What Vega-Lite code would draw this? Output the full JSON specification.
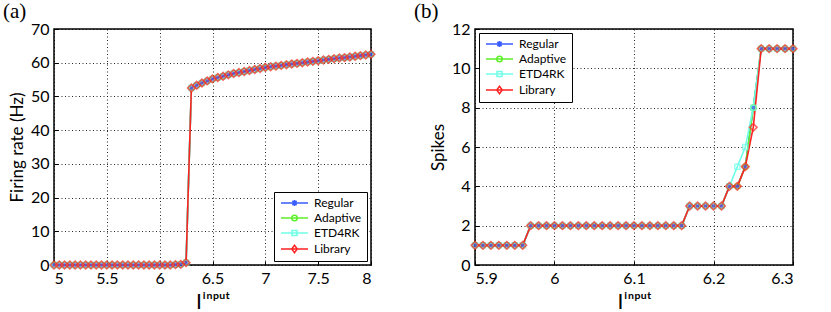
{
  "$schema": "https://vega.github.io/schema/vega-lite/v6.json",
  "padding": {"left": 2, "top": 0, "right": 0, "bottom": 0},
  "bounds": "flush",
  "spacing": 104,
  "config": {
    "font": "Lato",
    "view": {"stroke": "black", "strokeWidth": 1.5},
    "axis": {
      "domain": false, "ticks": true, "tickSize": -4, "tickColor": "black", "tickWidth": 1, "grid": true,
      "gridColor": "black", "gridDash": [1, 2.5], "gridWidth": 1, "gridOpacity": 0.85,
      "labelFont": "Lato", "labelFontSize": 16, "labelColor": "black", "labelPadding": 9,
      "titleFont": "Lato", "titleFontSize": 17, "titleFontWeight": "normal", "titleColor": "black", "titlePadding": 4
    },
    "legend": {
      "title": null, "padding": 5, "offset": 4,
      "strokeColor": "black", "fillColor": "white",
      "labelFont": "Lato", "labelFontSize": 12, "labelColor": "black",
      "symbolSize": 100, "symbolStrokeWidth": 1.5, "symbolOffset": 9.5, "labelOffset": 13.5, "rowPadding": 3,
      "symbolOpacity": 1
    },
    "title": {"font": "Liberation Serif", "fontSize": 21, "fontWeight": "normal", "anchor": "start", "frame": "group", "color": "black"}
  },
  "datasets": {
    "a": [
      {"x":5.00,"Regular":0,"Adaptive":0,"ETD4RK":0,"Library":0},
      {"x":5.05,"Regular":0,"Adaptive":0,"ETD4RK":0,"Library":0},
      {"x":5.10,"Regular":0,"Adaptive":0,"ETD4RK":0,"Library":0},
      {"x":5.15,"Regular":0,"Adaptive":0,"ETD4RK":0,"Library":0},
      {"x":5.20,"Regular":0,"Adaptive":0,"ETD4RK":0,"Library":0},
      {"x":5.25,"Regular":0,"Adaptive":0,"ETD4RK":0,"Library":0},
      {"x":5.30,"Regular":0,"Adaptive":0,"ETD4RK":0,"Library":0},
      {"x":5.35,"Regular":0,"Adaptive":0,"ETD4RK":0,"Library":0},
      {"x":5.40,"Regular":0,"Adaptive":0,"ETD4RK":0,"Library":0},
      {"x":5.45,"Regular":0,"Adaptive":0,"ETD4RK":0,"Library":0},
      {"x":5.50,"Regular":0,"Adaptive":0,"ETD4RK":0,"Library":0},
      {"x":5.55,"Regular":0,"Adaptive":0,"ETD4RK":0,"Library":0},
      {"x":5.60,"Regular":0,"Adaptive":0,"ETD4RK":0,"Library":0},
      {"x":5.65,"Regular":0,"Adaptive":0,"ETD4RK":0,"Library":0},
      {"x":5.70,"Regular":0,"Adaptive":0,"ETD4RK":0,"Library":0},
      {"x":5.75,"Regular":0,"Adaptive":0,"ETD4RK":0,"Library":0},
      {"x":5.80,"Regular":0,"Adaptive":0,"ETD4RK":0,"Library":0},
      {"x":5.85,"Regular":0,"Adaptive":0,"ETD4RK":0,"Library":0},
      {"x":5.90,"Regular":0,"Adaptive":0,"ETD4RK":0,"Library":0},
      {"x":5.95,"Regular":0,"Adaptive":0,"ETD4RK":0,"Library":0},
      {"x":6.00,"Regular":0,"Adaptive":0,"ETD4RK":0,"Library":0},
      {"x":6.05,"Regular":0,"Adaptive":0,"ETD4RK":0,"Library":0},
      {"x":6.10,"Regular":0,"Adaptive":0,"ETD4RK":0,"Library":0},
      {"x":6.15,"Regular":0.1,"Adaptive":0.1,"ETD4RK":0.1,"Library":0.1},
      {"x":6.20,"Regular":0.2,"Adaptive":0.2,"ETD4RK":0.2,"Library":0.2},
      {"x":6.25,"Regular":0.7,"Adaptive":0.7,"ETD4RK":0.7,"Library":0.7},
      {"x":6.30,"Regular":52.5,"Adaptive":52.5,"ETD4RK":52.5,"Library":52.5},
      {"x":6.35,"Regular":53.3,"Adaptive":53.3,"ETD4RK":53.3,"Library":53.3},
      {"x":6.40,"Regular":54.0,"Adaptive":54.0,"ETD4RK":54.0,"Library":54.0},
      {"x":6.45,"Regular":54.6,"Adaptive":54.6,"ETD4RK":54.6,"Library":54.6},
      {"x":6.50,"Regular":55.2,"Adaptive":55.2,"ETD4RK":55.2,"Library":55.2},
      {"x":6.55,"Regular":55.6,"Adaptive":55.6,"ETD4RK":55.6,"Library":55.6},
      {"x":6.60,"Regular":56.0,"Adaptive":56.0,"ETD4RK":56.0,"Library":56.0},
      {"x":6.65,"Regular":56.4,"Adaptive":56.4,"ETD4RK":56.4,"Library":56.4},
      {"x":6.70,"Regular":56.8,"Adaptive":56.8,"ETD4RK":56.8,"Library":56.8},
      {"x":6.75,"Regular":57.1,"Adaptive":57.1,"ETD4RK":57.1,"Library":57.1},
      {"x":6.80,"Regular":57.4,"Adaptive":57.4,"ETD4RK":57.4,"Library":57.4},
      {"x":6.85,"Regular":57.7,"Adaptive":57.7,"ETD4RK":57.7,"Library":57.7},
      {"x":6.90,"Regular":58.0,"Adaptive":58.0,"ETD4RK":58.0,"Library":58.0},
      {"x":6.95,"Regular":58.3,"Adaptive":58.3,"ETD4RK":58.3,"Library":58.3},
      {"x":7.00,"Regular":58.6,"Adaptive":58.6,"ETD4RK":58.6,"Library":58.6},
      {"x":7.05,"Regular":58.8,"Adaptive":58.8,"ETD4RK":58.8,"Library":58.8},
      {"x":7.10,"Regular":59.0,"Adaptive":59.0,"ETD4RK":59.0,"Library":59.0},
      {"x":7.15,"Regular":59.2,"Adaptive":59.2,"ETD4RK":59.2,"Library":59.2},
      {"x":7.20,"Regular":59.4,"Adaptive":59.4,"ETD4RK":59.4,"Library":59.4},
      {"x":7.25,"Regular":59.6,"Adaptive":59.6,"ETD4RK":59.6,"Library":59.6},
      {"x":7.30,"Regular":59.8,"Adaptive":59.8,"ETD4RK":59.8,"Library":59.8},
      {"x":7.35,"Regular":60.0,"Adaptive":60.0,"ETD4RK":60.0,"Library":60.0},
      {"x":7.40,"Regular":60.2,"Adaptive":60.2,"ETD4RK":60.2,"Library":60.2},
      {"x":7.45,"Regular":60.4,"Adaptive":60.4,"ETD4RK":60.4,"Library":60.4},
      {"x":7.50,"Regular":60.6,"Adaptive":60.6,"ETD4RK":60.6,"Library":60.6},
      {"x":7.55,"Regular":60.8,"Adaptive":60.8,"ETD4RK":60.8,"Library":60.8},
      {"x":7.60,"Regular":61.0,"Adaptive":61.0,"ETD4RK":61.0,"Library":61.0},
      {"x":7.65,"Regular":61.2,"Adaptive":61.2,"ETD4RK":61.2,"Library":61.2},
      {"x":7.70,"Regular":61.4,"Adaptive":61.4,"ETD4RK":61.4,"Library":61.4},
      {"x":7.75,"Regular":61.5,"Adaptive":61.5,"ETD4RK":61.5,"Library":61.5},
      {"x":7.80,"Regular":61.7,"Adaptive":61.7,"ETD4RK":61.7,"Library":61.7},
      {"x":7.85,"Regular":61.9,"Adaptive":61.9,"ETD4RK":61.9,"Library":61.9},
      {"x":7.90,"Regular":62.1,"Adaptive":62.1,"ETD4RK":62.1,"Library":62.1},
      {"x":7.95,"Regular":62.3,"Adaptive":62.3,"ETD4RK":62.3,"Library":62.3},
      {"x":8.00,"Regular":62.5,"Adaptive":62.5,"ETD4RK":62.5,"Library":62.5}
    ],
    "b": [
      {"x":5.90,"Regular":1,"Adaptive":1,"ETD4RK":1,"Library":1},
      {"x":5.91,"Regular":1,"Adaptive":1,"ETD4RK":1,"Library":1},
      {"x":5.92,"Regular":1,"Adaptive":1,"ETD4RK":1,"Library":1},
      {"x":5.93,"Regular":1,"Adaptive":1,"ETD4RK":1,"Library":1},
      {"x":5.94,"Regular":1,"Adaptive":1,"ETD4RK":1,"Library":1},
      {"x":5.95,"Regular":1,"Adaptive":1,"ETD4RK":1,"Library":1},
      {"x":5.96,"Regular":1,"Adaptive":1,"ETD4RK":1,"Library":1},
      {"x":5.97,"Regular":2,"Adaptive":2,"ETD4RK":2,"Library":2},
      {"x":5.98,"Regular":2,"Adaptive":2,"ETD4RK":2,"Library":2},
      {"x":5.99,"Regular":2,"Adaptive":2,"ETD4RK":2,"Library":2},
      {"x":6.00,"Regular":2,"Adaptive":2,"ETD4RK":2,"Library":2},
      {"x":6.01,"Regular":2,"Adaptive":2,"ETD4RK":2,"Library":2},
      {"x":6.02,"Regular":2,"Adaptive":2,"ETD4RK":2,"Library":2},
      {"x":6.03,"Regular":2,"Adaptive":2,"ETD4RK":2,"Library":2},
      {"x":6.04,"Regular":2,"Adaptive":2,"ETD4RK":2,"Library":2},
      {"x":6.05,"Regular":2,"Adaptive":2,"ETD4RK":2,"Library":2},
      {"x":6.06,"Regular":2,"Adaptive":2,"ETD4RK":2,"Library":2},
      {"x":6.07,"Regular":2,"Adaptive":2,"ETD4RK":2,"Library":2},
      {"x":6.08,"Regular":2,"Adaptive":2,"ETD4RK":2,"Library":2},
      {"x":6.09,"Regular":2,"Adaptive":2,"ETD4RK":2,"Library":2},
      {"x":6.10,"Regular":2,"Adaptive":2,"ETD4RK":2,"Library":2},
      {"x":6.11,"Regular":2,"Adaptive":2,"ETD4RK":2,"Library":2},
      {"x":6.12,"Regular":2,"Adaptive":2,"ETD4RK":2,"Library":2},
      {"x":6.13,"Regular":2,"Adaptive":2,"ETD4RK":2,"Library":2},
      {"x":6.14,"Regular":2,"Adaptive":2,"ETD4RK":2,"Library":2},
      {"x":6.15,"Regular":2,"Adaptive":2,"ETD4RK":2,"Library":2},
      {"x":6.16,"Regular":2,"Adaptive":2,"ETD4RK":2,"Library":2},
      {"x":6.17,"Regular":3,"Adaptive":3,"ETD4RK":3,"Library":3},
      {"x":6.18,"Regular":3,"Adaptive":3,"ETD4RK":3,"Library":3},
      {"x":6.19,"Regular":3,"Adaptive":3,"ETD4RK":3,"Library":3},
      {"x":6.20,"Regular":3,"Adaptive":3,"ETD4RK":3,"Library":3},
      {"x":6.21,"Regular":3,"Adaptive":3,"ETD4RK":3,"Library":3},
      {"x":6.22,"Regular":4,"Adaptive":4,"ETD4RK":4,"Library":4},
      {"x":6.23,"Regular":4,"Adaptive":4,"ETD4RK":5,"Library":4},
      {"x":6.24,"Regular":5,"Adaptive":5,"ETD4RK":6,"Library":5},
      {"x":6.25,"Regular":8,"Adaptive":8,"ETD4RK":8,"Library":7},
      {"x":6.26,"Regular":11,"Adaptive":11,"ETD4RK":11,"Library":11},
      {"x":6.27,"Regular":11,"Adaptive":11,"ETD4RK":11,"Library":11},
      {"x":6.28,"Regular":11,"Adaptive":11,"ETD4RK":11,"Library":11},
      {"x":6.29,"Regular":11,"Adaptive":11,"ETD4RK":11,"Library":11},
      {"x":6.30,"Regular":11,"Adaptive":11,"ETD4RK":11,"Library":11}
    ]
  },
  "hconcat": [
    {
      "width": 317, "height": 236,
      "title": {"text": "(a)", "dx": -51, "offset": -1},
      "data": {"name": "a"},
      "transform": [{"fold": ["Regular", "Adaptive", "ETD4RK", "Library"], "as": ["method", "value"]}],
      "encoding": {
        "x": {"field": "x", "type": "quantitative", "scale": {"domain": [5, 8], "nice": false, "zero": false},
              "axis": {"values": [5, 5.5, 6, 6.5, 7, 7.5, 8], "format": "~g", "title": "Iⁱⁿᵖᵘᵗ", "titleFontSize": 21, "titlePadding": 5}},
        "y": {"field": "value", "type": "quantitative", "scale": {"domain": [0, 70], "nice": false},
              "axis": {"values": [0, 10, 20, 30, 40, 50, 60, 70], "title": "Firing rate (Hz)"}},
        "color": {"field": "method", "type": "nominal",
                  "scale": {"domain": ["Regular", "Adaptive", "ETD4RK", "Library"], "range": ["#3a5cff", "#5ef02a", "#70ffe6", "#ff2222"]},
                  "legend": {"orient": "bottom-right"}}
      },
      "layer": [
        {"mark": {"type": "line", "strokeWidth": 1.6}},
        {"transform": [{"filter": {"field": "method", "equal": "Regular"}}],
         "mark": {"type": "point", "filled": false, "strokeWidth": 1.5, "size": 22, "shape": "M-1,0H1M0,-1V1M-0.7,-0.7L0.7,0.7M-0.7,0.7L0.7,-0.7"}},
        {"transform": [{"filter": {"field": "method", "equal": "Adaptive"}}],
         "mark": {"type": "point", "filled": false, "strokeWidth": 1.5, "size": 30, "shape": "circle"}},
        {"transform": [{"filter": {"field": "method", "equal": "ETD4RK"}}],
         "mark": {"type": "point", "filled": false, "strokeWidth": 1.5, "size": 25, "shape": "square"}},
        {"transform": [{"filter": {"field": "method", "equal": "Library"}}],
         "mark": {"type": "point", "filled": false, "strokeWidth": 1.6, "size": 58, "shape": "diamond"}},
        {"mark": {"type": "point", "filled": false, "opacity": 0},
         "encoding": {
           "shape": {"field": "method", "type": "nominal",
                     "scale": {"domain": ["Regular", "Adaptive", "ETD4RK", "Library"],
                               "range": ["M-2.7,0H2.7M-0.6,0H0.6M0,-0.6V0.6M-0.42,-0.42L0.42,0.42M-0.42,0.42L0.42,-0.42", "M-2.7,0H2.7M-0.55,0A0.55,0.55 0 1,1 0.55,0A0.55,0.55 0 1,1 -0.55,0", "M-2.7,0H2.7M-0.5,-0.5H0.5V0.5H-0.5Z", "M-2.7,0H2.7M0,-0.75L0.55,0L0,0.75L-0.55,0Z"]},
                     "legend": {"orient": "bottom-right"}}
         }}
      ]
    },
    {
      "width": 318, "height": 236,
      "title": {"text": "(b)", "dx": -61, "offset": -1},
      "data": {"name": "b"},
      "transform": [{"fold": ["Regular", "Adaptive", "ETD4RK", "Library"], "as": ["method", "value"]}],
      "encoding": {
        "x": {"field": "x", "type": "quantitative", "scale": {"domain": [5.9, 6.3], "nice": false, "zero": false},
              "axis": {"values": [5.9, 6, 6.1, 6.2, 6.3], "format": "~g", "title": "Iⁱⁿᵖᵘᵗ", "titleFontSize": 21, "titlePadding": 5}},
        "y": {"field": "value", "type": "quantitative", "scale": {"domain": [0, 12], "nice": false},
              "axis": {"values": [0, 2, 4, 6, 8, 10, 12], "title": "Spikes"}},
        "color": {"field": "method", "type": "nominal",
                  "scale": {"domain": ["Regular", "Adaptive", "ETD4RK", "Library"], "range": ["#3a5cff", "#5ef02a", "#70ffe6", "#ff2222"]},
                  "legend": {"orient": "top-left"}}
      },
      "layer": [
        {"mark": {"type": "line", "strokeWidth": 1.6}},
        {"transform": [{"filter": {"field": "method", "equal": "Regular"}}],
         "mark": {"type": "point", "filled": false, "strokeWidth": 1.5, "size": 22, "shape": "M-1,0H1M0,-1V1M-0.7,-0.7L0.7,0.7M-0.7,0.7L0.7,-0.7"}},
        {"transform": [{"filter": {"field": "method", "equal": "Adaptive"}}],
         "mark": {"type": "point", "filled": false, "strokeWidth": 1.5, "size": 30, "shape": "circle"}},
        {"transform": [{"filter": {"field": "method", "equal": "ETD4RK"}}],
         "mark": {"type": "point", "filled": false, "strokeWidth": 1.5, "size": 25, "shape": "square"}},
        {"transform": [{"filter": {"field": "method", "equal": "Library"}}],
         "mark": {"type": "point", "filled": false, "strokeWidth": 1.6, "size": 58, "shape": "diamond"}},
        {"mark": {"type": "point", "filled": false, "opacity": 0},
         "encoding": {
           "shape": {"field": "method", "type": "nominal",
                     "scale": {"domain": ["Regular", "Adaptive", "ETD4RK", "Library"],
                               "range": ["M-2.7,0H2.7M-0.6,0H0.6M0,-0.6V0.6M-0.42,-0.42L0.42,0.42M-0.42,0.42L0.42,-0.42", "M-2.7,0H2.7M-0.55,0A0.55,0.55 0 1,1 0.55,0A0.55,0.55 0 1,1 -0.55,0", "M-2.7,0H2.7M-0.5,-0.5H0.5V0.5H-0.5Z", "M-2.7,0H2.7M0,-0.75L0.55,0L0,0.75L-0.55,0Z"]},
                     "legend": {"orient": "top-left"}}
         }}
      ]
    }
  ],
  "resolve": {
    "scale": {"x": "independent", "y": "independent", "color": "independent", "shape": "independent"},
    "legend": {"color": "independent", "shape": "independent"}
  }
}
